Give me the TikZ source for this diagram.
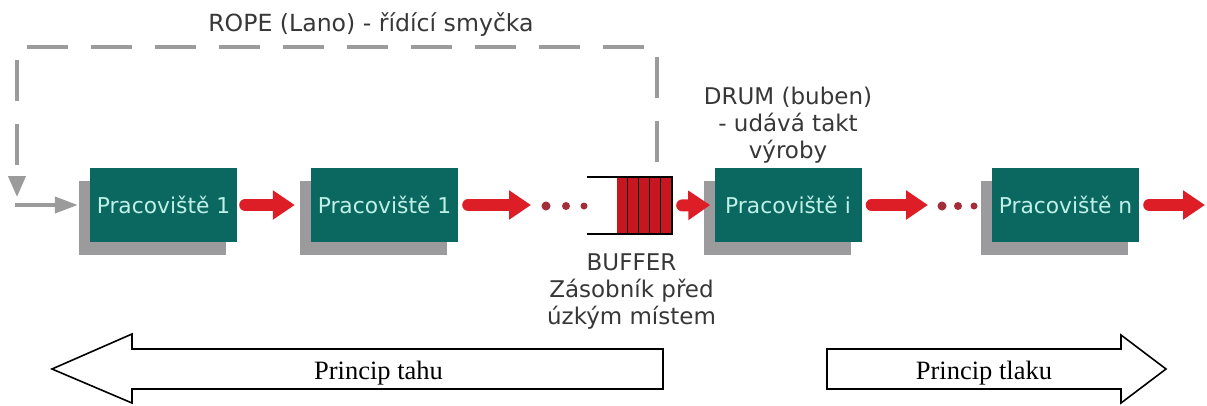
\documentclass[tikz,border=0pt]{standalone}
\usepackage{fontspec}
\setmainfont{Liberation Serif}
\newfontfamily\labelfont{DejaVu Sans}
\usetikzlibrary{arrows.meta,shadows}

\definecolor{station}{RGB}{10,104,96}
\definecolor{stationtext}{RGB}{190,240,232}
\definecolor{shadowgray}{RGB}{155,155,158}
\definecolor{flowred}{RGB}{222,30,38}
\definecolor{bufferred}{RGB}{200,22,32}
\definecolor{dotred}{RGB}{165,45,58}
\definecolor{ropegray}{RGB}{155,155,155}
\definecolor{labelgray}{RGB}{55,55,55}

\begin{document}
\begin{tikzpicture}[x=1pt,y=-1pt,
  stationbox/.style={fill=station, minimum width=147pt, minimum height=74pt, inner sep=0pt,
    text=stationtext, font=\labelfont\fontsize{21.8}{26}\selectfont,
    general shadow={fill=shadowgray, shadow xshift=-11pt, shadow yshift=-13pt}},
  flow/.style={draw=flowred, line width=12pt, line cap=round,
    -{Triangle[length=22pt,width=28pt]}},
  flowdot/.style={fill=dotred},
  ropeline/.style={draw=ropegray, line width=4pt, dash pattern=on 41pt off 23pt,
    -{Triangle[length=21pt,width=17pt]}},
  ropein/.style={draw=ropegray, line width=4pt, -{Triangle[length=23pt,width=16pt]}},
  caption/.style={text=labelgray, font=\labelfont\fontsize{23}{27}\selectfont,
    align=center, inner sep=0pt},
  bigarrow/.style={draw=black, line width=1.6pt, fill=white, line join=miter},
  principle/.style={font=\fontsize{26.5}{30}\selectfont, inner sep=0pt, anchor=base},
]
\useasboundingbox (0,0) rectangle (1207,405);

% work stations
\node[stationbox] (s1) at (163.5,205) {Pracoviště 1};
\node[stationbox] (s2) at (384.5,205) {Pracoviště 1};
\node[stationbox] (s3) at (788,205) {Pracoviště i};
\node[stationbox] (sn) at (1065.5,205) {Pracoviště n};

% buffer in front of the bottleneck
\node[fill=bufferred, minimum width=55pt, minimum height=57pt, inner sep=0pt] (buf) at (644.5,205.5) {};
\foreach \k in {1,...,4}
  \draw[line width=1.2pt] ([xshift=\k*11pt]buf.north west) -- ([xshift=\k*11pt]buf.south west);
\draw[line width=1.5pt] ([xshift=-30pt]buf.north west) -- (buf.north east)
  -- (buf.south east) -- ([xshift=-30pt]buf.south west);

% free ends of the material flow
\coordinate (dotsA) at (531,205);
\coordinate (dotsB) at (928,205);
\coordinate (outflow) at (1205,205);

% material flow
\draw[flow, shorten <=8pt, shorten >=16pt] (s1.east) -- (s2.west);
\draw[flow, shorten <=10pt] (s2.east) -- (dotsA);
\draw[flow, shorten <=10pt, shorten >=4pt] (buf.east) -- (s3.west);
\draw[flow, shorten <=10pt] (s3.east) -- (dotsB);
\draw[flow, shorten <=10pt] (sn.east) -- (outflow);

\fill[flowdot] (546,206) circle[radius=4.5] (566,206) circle[radius=4] (584,206) circle[radius=3.5];
\fill[flowdot] (942,206) circle[radius=4.5] (958,206) circle[radius=4] (974,206) circle[radius=3.5];

% rope: control loop from the buffer back to the first station
\coordinate (ropestart) at (657,162);
\coordinate (ropecorner) at (657,47);
\coordinate (ropedown) at (17,197);
\coordinate (ropefeed) at (15,205);
\draw[ropeline] (ropestart) -- (ropecorner) -| (ropedown);
\draw[ropein, shorten >=12pt] (ropefeed) -- (s1.west);

% labels
\node[caption, anchor=base, font=\labelfont\fontsize{23.6}{27}\selectfont] (ropelabel) at (371,31) {ROPE (Lano) - řídící smyčka};
\node[caption, anchor=north] (drumlabel) at (788,87) {DRUM (buben)\\- udává takt\\výroby};
\node[caption, anchor=north] (buflabel) at (631.5,254) {BUFFER\\Zásobník před\\úzkým místem};

% pull and push principle arrows
\draw[bigarrow] (52,369) -- (132,334) -- (132,349) -- (663,349) -- (663,389)
  -- (132,389) -- (132,403) -- cycle;
\draw[bigarrow] (827,349) -- (1121,349) -- (1121,335) -- (1166,369) -- (1121,403)
  -- (1121,389) -- (827,389) -- cycle;
\node[principle] (pull) at (378.5,379) {Princip tahu};
\node[principle] (push) at (984,379) {Princip tlaku};
\end{tikzpicture}
\end{document}
